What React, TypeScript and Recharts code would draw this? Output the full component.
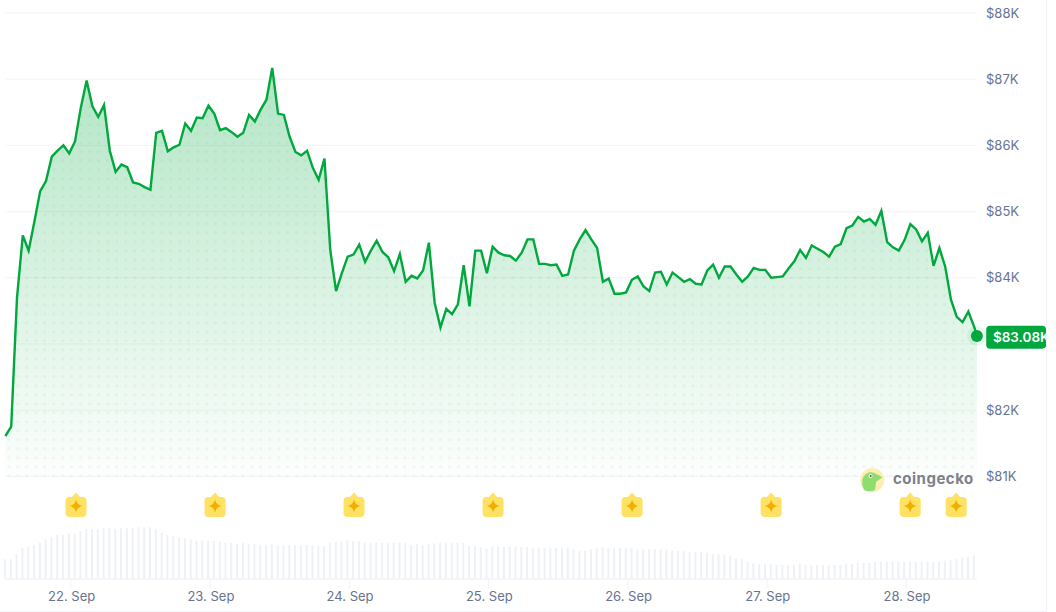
import React from "react";
import { ComposedChart, Area, Bar, XAxis, YAxis, CartesianGrid, ReferenceDot } from "recharts";

const prices = [
  81.61,81.75,83.70,84.64,84.41,84.85,85.31,85.46,85.83,85.92,86.00,85.88,86.06,86.57,86.98,86.59,86.43,86.61,85.92,85.60,85.71,85.67,85.44,85.42,
  85.37,85.33,86.19,86.22,85.91,85.97,86.01,86.33,86.22,86.42,86.41,86.60,86.48,86.23,86.26,86.20,86.13,86.19,86.46,86.36,86.54,86.69,87.17,86.48,
  86.46,86.13,85.90,85.85,85.92,85.66,85.48,85.80,84.42,83.80,84.07,84.32,84.35,84.50,84.24,84.41,84.56,84.39,84.31,84.10,84.36,83.94,84.03,83.99,
  84.11,84.53,83.62,83.25,83.53,83.45,83.60,84.19,83.57,84.41,84.41,84.07,84.47,84.38,84.34,84.33,84.26,84.38,84.58,84.58,84.21,84.21,84.19,84.20,
  84.03,84.05,84.41,84.58,84.72,84.58,84.45,83.94,83.99,83.76,83.76,83.78,83.97,84.02,83.87,83.80,84.08,84.09,83.90,84.08,84.01,83.94,83.98,83.91,
  83.90,84.11,84.20,84.00,84.17,84.17,84.05,83.94,84.02,84.15,84.12,84.12,84.00,84.01,84.02,84.14,84.25,84.42,84.30,84.49,84.44,84.39,84.32,84.47,
  84.51,84.75,84.79,84.92,84.85,84.89,84.80,85.01,84.54,84.46,84.41,84.57,84.81,84.73,84.55,84.68,84.18,84.45,84.17,83.67,83.41,83.33,83.49,83.26,
];
const volumes = [
  19.7,19.7,25,31,31.7,34,36.3,39.7,41.7,44,44.3,45.3,45.3,47.7,50,50,50,51,51,50,50.7,50.7,50.7,51.7,
  51.7,51.7,49.7,46.3,44,43,41.7,40.7,39.7,38.3,38.3,38.3,38.3,37.3,36.3,36.3,35,36,35,35,33.7,33.7,34.7,33.7,
  33.7,34,34,34,34,34,33,33,36.3,37.3,37.3,38.7,37.7,37.7,36.3,36.3,36.3,36.3,36.3,36.3,36.3,36.3,34,35.3,
  34,35.3,35.3,36.3,36.3,36.3,36.3,36.3,33,33,32,30.7,32,32,32,32,32,32,32,31,31,31,31,31,
  31,31,29.7,28.3,28.3,29.7,31,32,31,31,31,31,31,29.7,29.7,29.7,29.7,29.7,29.7,28.3,28.3,28.3,27.3,27.3,
  27.3,26.3,25,25,24,23,20.7,19.7,17.3,16,15,15,15,14,14,14,14,15,14,14,14,14,14,14,
  14,15,15,16,16,16,17.3,17.3,17.3,17.3,17.3,17.3,17.3,17.3,17.3,17.3,17.3,17.3,18.3,19.3,20.7,21.7,21.7,23,
];
const lastHour = 167.47;
const lastPrice = 83.12;
const lastPriceLabel = "$83.08K";
const dayHours = [11.3, 35.3, 59.3, 83.3, 107.3, 131.3, 155.3];
const dayLabels = ["22. Sep", "23. Sep", "24. Sep", "25. Sep", "26. Sep", "27. Sep", "28. Sep"];
const priceTicks = [81, 82, 83, 84, 85, 86, 87, 88];
const eventHours = [12.17, 36.14, 60.1, 84.07, 108.03, 132, 155.97, 163.9];
const eventLevel = 80.553;

const rows = [
  ...prices.map((price, i) => ({ t: i, price, volume: volumes[i] })),
  { t: lastHour, price: lastPrice, volume: null as number | null },
];

const GREEN = "#00a83e";
const LABEL = "#677391";
const GRID = "#f1f3f6";
const FONT = "Inter, sans-serif";

function PriceTick(props: any) {
  const { y, payload } = props;
  if (payload.value === 83) return <g />;
  return (
    <text x={986} y={y + 4.5} fontFamily={FONT} fontSize={13} fill={LABEL} textAnchor="start">
      ${payload.value}K
    </text>
  );
}

function DayTick(props: any) {
  const { x, y, payload } = props;
  return (
    <text x={x + 0.7} y={y + 11.5} fontFamily={FONT} fontSize={13} fill={LABEL} textAnchor="middle">
      {dayLabels[dayHours.indexOf(payload.value)]}
    </text>
  );
}

function EventMark(props: any) {
  const { cx, cy } = props;
  return (
    <g transform={`translate(${cx},${cy})`}>
      <path d="M-4,-9 L0,-13.5 L4,-9 Z" fill="#ffe164" />
      <rect x={-10.5} y={-9} width={21} height={20} rx={4} fill="#ffe164" />
      <path d="M0,-6.5 Q1,-1 6.5,0 Q1,1 0,6.5 Q-1,1 -6.5,0 Q-1,-1 0,-6.5 Z" fill="#efb000" />
    </g>
  );
}

function LastMark(props: any) {
  const { cx, cy } = props;
  return (
    <g>
      <circle cx={cx} cy={cy} r={10} fill={GREEN} opacity={0.08} />
      <circle cx={cx} cy={cy} r={6} fill={GREEN} />
      <rect x={cx + 9.3} y={cy - 10.3} width={60} height={23} rx={4} fill={GREEN} clipPath="url(#tagClip)" />
      <text x={cx + 16} y={cy + 5.8} fontFamily={FONT} fontSize={13.5} fontWeight={600} fill="#ffffff" clipPath="url(#tagClip)">
        {lastPriceLabel}
      </text>
    </g>
  );
}

export default function App() {
  return (
    <div style={{ position: "absolute", left: 0, top: 0, width: 1056, height: 612, background: "#fff", overflow: "hidden" }}>
      <ComposedChart
        width={1056}
        height={612}
        data={rows}
        margin={{ top: 13, right: 0, bottom: 0, left: 5.4 }}
      >
        <defs>
          <linearGradient id="fade" x1="0" y1="0" x2="0" y2="1">
            <stop offset="0%" stopColor={GREEN} stopOpacity={0.3} />
            <stop offset="100%" stopColor={GREEN} stopOpacity={0.01} />
          </linearGradient>
          <pattern id="dots" patternUnits="userSpaceOnUse" x={4.2} y={3.2} width={9} height={9}>
            <circle cx={4.5} cy={4.5} r={1.5} fill={GREEN} opacity={0.07} />
          </pattern>
          <clipPath id="tagClip" clipPathUnits="userSpaceOnUse">
            <rect x={980} y={300} width={66} height={80} />
          </clipPath>
        </defs>
        <XAxis
          xAxisId="time"
          type="number"
          dataKey="t"
          domain={[0, lastHour]}
          ticks={dayHours}
          interval={0}
          tick={DayTick}
          tickSize={10}
          tickMargin={0}
          tickLine={{ stroke: GRID }}
          axisLine={{ stroke: GRID }}
          height={33}
        />
        <YAxis
          yAxisId="price"
          orientation="right"
          width={79.1}
          domain={[79.45, 88]}
          allowDataOverflow
          ticks={priceTicks}
          interval={0}
          axisLine={false}
          tickLine={false}
          tick={PriceTick}
        />
        <YAxis yAxisId="volume" hide domain={[0, 566]} />
        <CartesianGrid xAxisId="time" yAxisId="price" vertical={false} stroke={GRID} />
        <Bar xAxisId="time" yAxisId="volume" dataKey="volume" barSize={2} fill="#eef1f6" isAnimationActive={false} />
        <Area
          xAxisId="time"
          yAxisId="price"
          dataKey="price"
          type="linear"
          baseValue={81}
          stroke="none"
          fill="url(#dots)"
          fillOpacity={1}
          dot={false}
          activeDot={false}
          isAnimationActive={false}
        />
        <Area
          xAxisId="time"
          yAxisId="price"
          dataKey="price"
          type="linear"
          baseValue={81}
          stroke={GREEN}
          strokeWidth={2.4}
          fill="url(#fade)"
          fillOpacity={1}
          dot={false}
          activeDot={false}
          isAnimationActive={false}
        />
        {eventHours.map((h) => (
          <ReferenceDot key={h} xAxisId="time" yAxisId="price" x={h} y={eventLevel} ifOverflow="visible" shape={EventMark} />
        ))}
        <ReferenceDot xAxisId="time" yAxisId="price" x={lastHour} y={lastPrice} ifOverflow="visible" shape={LastMark} />
      </ComposedChart>
      <svg width={1056} height={612} style={{ position: "absolute", left: 0, top: 0, pointerEvents: "none" }}>
        <circle cx={872.3} cy={480} r={12} fill="#fbeeb0" />
        <path d="M869,472.5 Q873,471.5 876,474 Q880,475 882.3,477.5 Q877,481 876,482 Q875.5,487 875,490 Q869,492.5 864,490 Q861.5,485 862.5,479 Q864,474 869,472.5 Z" fill="#8fdc6f" />
        <circle cx={870.5} cy={476} r={2} fill="#f4f4f4" />
        <circle cx={870.7} cy={476} r={1} fill="#555" />
        <text x={893} y={484} fontFamily="Inter, sans-serif" fontSize={15} fontWeight={700} letterSpacing={0.5} fill="#7d8088">coingecko</text>
        <line x1={1046.5} y1={0} x2={1046.5} y2={612} stroke={GRID} />
        <line x1={0} y1={611.5} x2={1046} y2={611.5} stroke={GRID} />
      </svg>
    </div>
  );
}
